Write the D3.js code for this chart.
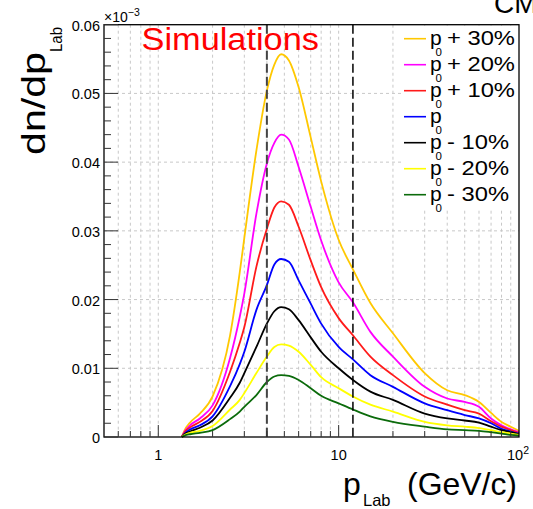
<!DOCTYPE html>
<html><head><meta charset="utf-8">
<script src="https://cdn.jsdelivr.net/npm/d3@7"></script>
<style>body{margin:0;background:#fff}svg{display:block}text{font-family:"Liberation Sans",Arial,sans-serif}</style>
</head><body>
<svg id="c" width="533" height="509"></svg>
<script>
const pLab = [1.35,1.4,1.5,1.7,2,2.5,2.83,3,3.5,4,4.4,4.8,5.3,6,7,8,10,12,15,20,30,40,50,60,70,80,90,100];
const plus30  = [0,0.0010,0.0021,0.0034,0.0059,0.0148,0.0240,0.0290,0.0417,0.0504,0.0542,0.0557,0.0548,0.0509,0.0436,0.0372,0.0287,0.0244,0.0195,0.0151,0.0093,0.0068,0.0061,0.0051,0.0035,0.0022,0.0015,0.0009];
const plus20  = [0,0.0008,0.0017,0.0027,0.0046,0.0115,0.0175,0.0209,0.0325,0.0398,0.0428,0.0440,0.0433,0.0393,0.0335,0.0286,0.0225,0.0196,0.0153,0.0117,0.0073,0.0056,0.0051,0.0044,0.0027,0.0017,0.0011,0.0007];
const plus10  = [0,0.0007,0.0014,0.0022,0.0038,0.0095,0.0137,0.0160,0.0248,0.0303,0.0334,0.0343,0.0338,0.0306,0.0257,0.0218,0.0173,0.0148,0.0117,0.0090,0.0059,0.0047,0.0039,0.0034,0.0023,0.0015,0.0010,0.0006];
const nominal = [0,0.0005,0.0011,0.0017,0.0030,0.0074,0.0106,0.0124,0.0185,0.0221,0.0251,0.0259,0.0255,0.0228,0.0194,0.0165,0.0131,0.0113,0.0090,0.0073,0.0049,0.0039,0.0032,0.0027,0.0020,0.0012,0.0008,0.0005];
const minus10 = [0,0.0004,0.0008,0.00135,0.0024,0.0057,0.0079,0.0093,0.0131,0.0165,0.0183,0.0189,0.0186,0.0170,0.0145,0.0124,0.0100,0.0083,0.0066,0.0054,0.0034,0.0027,0.0024,0.0021,0.0015,0.0010,0.0007,0.0004];
const minus20 = [0,0.0003,0.0006,0.0009,0.0016,0.0040,0.0054,0.0064,0.0093,0.0117,0.0131,0.01347,0.0133,0.0124,0.0105,0.0087,0.0071,0.0059,0.0047,0.0037,0.0022,0.0017,0.0015,0.0013,0.0010,0.0007,0.0005,0.0003];
const minus30 = [0,0.0002,0.0004,0.0006,0.0010,0.0026,0.0037,0.0044,0.0061,0.0080,0.0088,0.0090,0.0089,0.0083,0.0071,0.0060,0.0049,0.0040,0.0030,0.0022,0.0015,0.0011,0.0010,0.0009,0.0007,0.0005,0.0003,0.0002];
const seriesNames = ["+ 30%","+ 20%","+ 10%","","- 10%","- 20%","- 30%"];
const seriesColors = ["#ffc800","#ff00ff","#ff1a1a","#0000ff","#000000","#ffff00","#0b6b0b"];
const seriesValues = [plus30,plus20,plus10,nominal,minus10,minus20,minus30];
const yTicks = [0,0.01,0.02,0.03,0.04,0.05,0.06];
const yTickLabels = ["0","0.01","0.02","0.03","0.04","0.05","0.06"];
const xMajor = [1,10,100];
const cutLines = [4,12];

const svg = d3.select("#c");
const L=104,R=519,T=24.7,B=437;
const x = d3.scaleLog().domain([0.5,100]).range([L,R]);
const y = d3.scaleLinear().domain([0,0.06]).range([B,T]);

const xMinor=[];
[0.1,1,10].forEach(d=>{for(let k=2;k<=9;k++){const v=d*k; if(v>0.5&&v<100) xMinor.push(v);}});
const xAll = xMinor.concat(xMajor).filter(v=>v>0.5&&v<100);

// grid
const g = svg.append("g");
g.selectAll("line.vg").data(xAll).join("line")
 .attr("x1",d=>x(d)).attr("x2",d=>x(d)).attr("y1",T).attr("y2",B)
 .attr("stroke","#c8c8c8").attr("stroke-width",1).attr("stroke-dasharray","3,3");
g.selectAll("line.hg").data(yTicks.slice(1,-1)).join("line")
 .attr("x1",L).attr("x2",R).attr("y1",d=>y(d)).attr("y2",d=>y(d))
 .attr("stroke","#c8c8c8").attr("stroke-width",1).attr("stroke-dasharray","3,3");

// curves
const line = d3.line().x((d,i)=>x(pLab[i])).y(d=>y(d)).curve(d3.curveMonotoneX);
seriesValues.forEach((vals,k)=>{
  svg.append("path").attr("d",line(vals)).attr("fill","none")
    .attr("stroke",seriesColors[k]).attr("stroke-width",1.8);
});

// cut lines
svg.append("line").attr("x1",x(cutLines[0])).attr("x2",x(cutLines[0])).attr("y1",T).attr("y2",B)
  .attr("stroke","#444").attr("stroke-width",2).attr("stroke-dasharray","9,4");
svg.append("line").attr("x1",x(cutLines[1])).attr("x2",x(cutLines[1])).attr("y1",T).attr("y2",B)
  .attr("stroke","#000").attr("stroke-width",1.5).attr("stroke-dasharray","9,4");

// legend
svg.append("rect").attr("x",401).attr("y",T+1).attr("width",R-401).attr("height",207-T).attr("fill","#fff");
seriesNames.forEach((nm,k)=>{
  const ly = 38.7 + k*26;
  svg.append("line").attr("x1",404).attr("x2",426).attr("y1",ly).attr("y2",ly)
    .attr("stroke",seriesColors[k]).attr("stroke-width",1.6);
  svg.append("text").attr("x",430).attr("y",ly+6.6).attr("font-size",21).text("p");
  svg.append("text").attr("x",435.5).attr("y",ly+16.8).attr("font-size",11.5).text("0");
  if(nm){
    const t = svg.append("text").attr("x",447).attr("y",ly+6.6).attr("font-size",21).text(nm);
    const w = t.node().getComputedTextLength();
    t.attr("textLength",w*1.13).attr("lengthAdjust","spacingAndGlyphs");
  }
});

// frame
svg.append("rect").attr("x",L).attr("y",T).attr("width",R-L).attr("height",B-T)
  .attr("fill","none").attr("stroke","#000").attr("stroke-width",1.3);

// y ticks
const yMinorT = d3.range(0,0.0601,0.002);
svg.selectAll("line.yt").data(yMinorT).join("line")
 .attr("x1",L).attr("x2",(d,i)=>L+(i%5===0?14:7)).attr("y1",d=>y(d)).attr("y2",d=>y(d))
 .attr("stroke","#333").attr("stroke-width",1);
svg.selectAll("text.yl").data(yTicks).join("text")
 .attr("x",L-4).attr("y",d=>y(d)+6).attr("text-anchor","end").attr("font-size",14.5)
 .text((d,i)=>yTickLabels[i]);
// x ticks
svg.selectAll("line.xt").data(xAll).join("line")
 .attr("x1",d=>x(d)).attr("x2",d=>x(d)).attr("y1",B).attr("y2",d=>B-(xMajor.includes(d)?12:6))
 .attr("stroke","#333").attr("stroke-width",1);
svg.append("text").attr("x",x(1)).attr("y",460).attr("text-anchor","middle").attr("font-size",14.5).text("1");
svg.append("text").attr("x",x(10)).attr("y",460).attr("text-anchor","middle").attr("font-size",14.5).text("10");
const t100 = svg.append("text").attr("x",x(100)-12).attr("y",460).attr("font-size",14.5);
t100.append("tspan").text("10");
t100.append("tspan").attr("dy",-6).attr("font-size",10.5).text("2");

// exponent
const ex = svg.append("text").attr("x",104).attr("y",22).attr("font-size",14);
ex.append("tspan").text("\u00d710");
ex.append("tspan").attr("dy",-6).attr("font-size",10.5).text("\u22123");

// y title
svg.append("text").attr("transform","translate(45,155) rotate(-90)").attr("font-size",33)
  .attr("textLength",103).attr("lengthAdjust","spacingAndGlyphs").text("dn/dp");
svg.append("text").attr("transform","translate(61.5,52) rotate(-90)").attr("font-size",17)
  .attr("textLength",25).attr("lengthAdjust","spacingAndGlyphs").text("Lab");

// x title
svg.append("text").attr("x",343).attr("y",495).attr("font-size",32).text("p");
svg.append("text").attr("x",363).attr("y",505.5).attr("font-size",16.5).text("Lab");
svg.append("text").attr("x",407).attr("y",495).attr("font-size",32).attr("textLength",110).attr("lengthAdjust","spacingAndGlyphs").text("(GeV/c)");

// Simulations
svg.append("text").attr("x",141.5).attr("y",49.5).attr("font-size",31).attr("fill","#ff0000")
  .attr("textLength",177.5).attr("lengthAdjust","spacingAndGlyphs").text("Simulations");
// CM (cut off at top edge as in the reference)
svg.append("text").attr("x",494).attr("y",13).attr("font-size",28).text("CM");
</script>
</body></html>
